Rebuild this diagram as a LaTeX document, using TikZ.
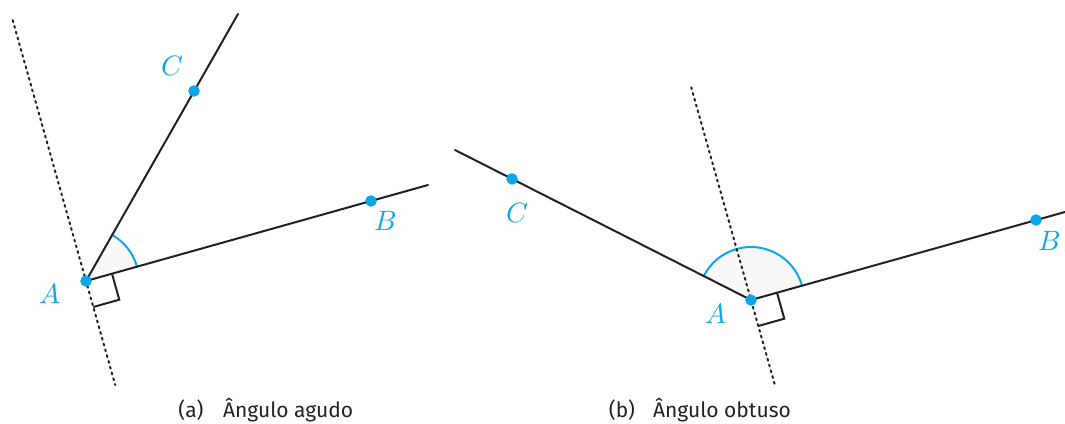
\documentclass[tikz,border=0pt]{standalone}
\usepackage{fontspec}
\setmainfont{Fira Sans}
\usepackage{unicode-math}
\setmathfont{Latin Modern Math}
\usetikzlibrary{calc}
\definecolor{ptblue}{HTML}{0AA8E6}
\definecolor{ink}{HTML}{1E2228}
\definecolor{anglefill}{HTML}{F8F8F8}

\begin{document}
\begin{tikzpicture}[x=0.5pt,y=0.5pt,line cap=round]
  \useasboundingbox (0,0) rectangle (1065,423);
  % (a) acute angle
  \node[circle,fill=ptblue,inner sep=0pt,minimum size=5.6pt] (A1) at (86,142) {};
  \node[circle,fill=ptblue,inner sep=0pt,minimum size=5.6pt] (B1) at (371,222) {};
  \node[circle,fill=ptblue,inner sep=0pt,minimum size=5.6pt] (C1) at (194,332) {};
  \coordinate (B1e) at (428,238);
  \coordinate (C1e) at (238,409);
  \coordinate (P1t) at ($(A1.center)+(105.7:271)$);
  \coordinate (P1b) at ($(A1.center)+(-74.3:108)$);
  \fill[anglefill] (A1.center) -- ++(15.7:53) arc (15.7:60.4:53) -- cycle;
  \draw[ptblue,line width=1pt] ([shift={(15.7:53)}]A1.center) arc (15.7:60.4:53);
  \draw[dotted,line width=1pt,ink] (P1t) -- (P1b);
  \draw[line width=1pt,ink] (A1.center) -- (B1e);
  \draw[line width=1pt,ink] (A1.center) -- (C1e);
  \draw[line width=1pt,ink,line cap=butt] (A1.center) ++(15.7:27) -- ++(-74.3:27) -- ++(195.7:27);
  \node[circle,fill=ptblue,inner sep=0pt,minimum size=5.6pt] at (A1) {};
  \node[circle,fill=ptblue,inner sep=0pt,minimum size=5.6pt] at (B1) {};
  \node[circle,fill=ptblue,inner sep=0pt,minimum size=5.6pt] at (C1) {};
  \node[text=ptblue,font=\fontsize{14}{16}\selectfont] (lA1) at (50,130) {$A$};
  \node[text=ptblue,font=\fontsize{14}{16}\selectfont] (lB1) at (385,202) {$B$};
  \node[text=ptblue,font=\fontsize{14}{16}\selectfont] (lC1) at (173,357) {$C$};
  % (b) obtuse angle
  \node[circle,fill=ptblue,inner sep=0pt,minimum size=5.6pt] (A2) at (751,123) {};
  \node[circle,fill=ptblue,inner sep=0pt,minimum size=5.6pt] (B2) at (1036,203) {};
  \node[circle,fill=ptblue,inner sep=0pt,minimum size=5.6pt] (C2) at (512,244) {};
  \coordinate (B2e) at (1065,211);
  \coordinate (C2e) at (455,273);
  \coordinate (P2t) at ($(A2.center)+(105.7:221)$);
  \coordinate (P2b) at ($(A2.center)+(-74.3:88)$);
  \fill[anglefill] (A2.center) -- ++(15.7:53) arc (15.7:153.1:53) -- cycle;
  \draw[ptblue,line width=1pt] ([shift={(15.7:53)}]A2.center) arc (15.7:153.1:53);
  \draw[dotted,line width=1pt,ink] (P2t) -- (P2b);
  \draw[line width=1pt,ink] (A2.center) -- (B2e);
  \draw[line width=1pt,ink] (A2.center) -- (C2e);
  \draw[line width=1pt,ink,line cap=butt] (A2.center) ++(15.7:27) -- ++(-74.3:27) -- ++(195.7:27);
  \node[circle,fill=ptblue,inner sep=0pt,minimum size=5.6pt] at (A2) {};
  \node[circle,fill=ptblue,inner sep=0pt,minimum size=5.6pt] at (B2) {};
  \node[circle,fill=ptblue,inner sep=0pt,minimum size=5.6pt] at (C2) {};
  \node[text=ptblue,font=\fontsize{14}{16}\selectfont] (lA2) at (716,110) {$A$};
  \node[text=ptblue,font=\fontsize{14}{16}\selectfont] (lB2) at (1049,182) {$B$};
  \node[text=ptblue,font=\fontsize{14}{16}\selectfont] (lC2) at (518,210) {$C$};
  % captions
  \node[font=\fontsize{10.5}{12}\selectfont,text=ink] (capa) at (191,13) {(a)};
  \node[anchor=west,font=\fontsize{10.5}{12}\selectfont,text=ink] (capat) at (216,13) {Ângulo agudo};
  \node[font=\fontsize{10.5}{12}\selectfont,text=ink] (capb) at (622,13) {(b)};
  \node[anchor=west,font=\fontsize{10.5}{12}\selectfont,text=ink] (capbt) at (646,13) {Ângulo obtuso};
\end{tikzpicture}
\end{document}
